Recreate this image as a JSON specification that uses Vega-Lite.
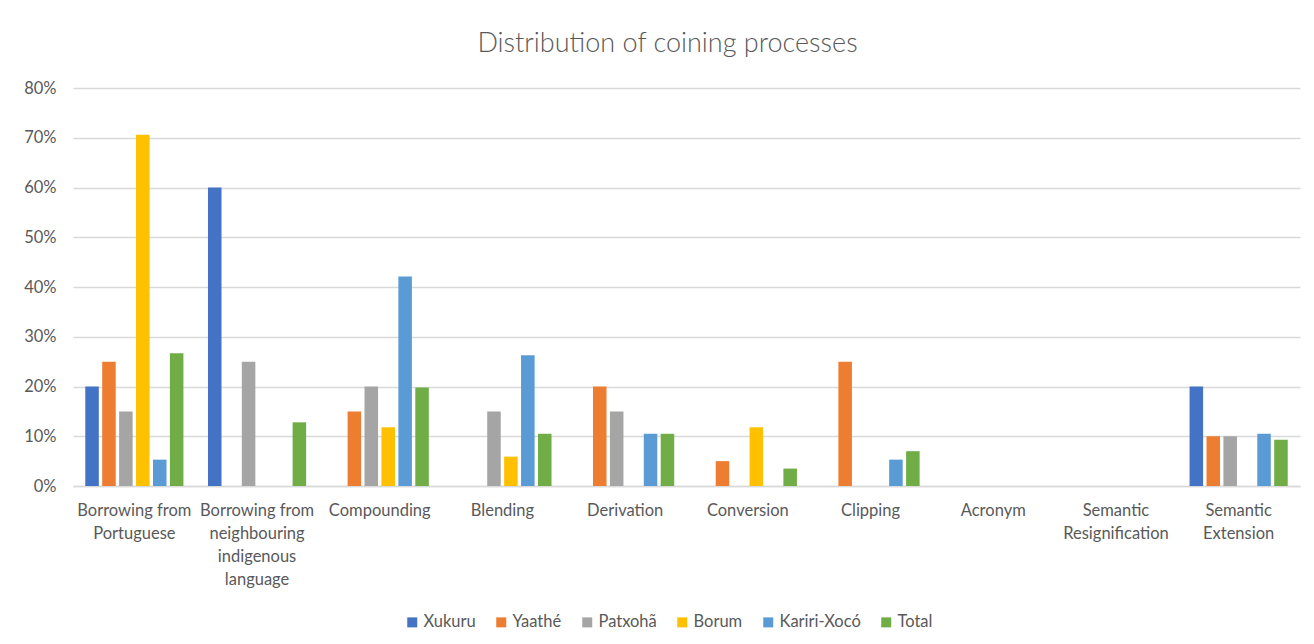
{
  "$schema": "https://vega.github.io/schema/vega-lite/v6.json",
  "autosize": {"type": "none"},
  "width": 1227,
  "height": 398,
  "padding": {"left": 73, "top": 88, "right": 14, "bottom": 158},
  "background": "white",
  "title": {
    "text": "Distribution of coining processes",
    "font": "Lato",
    "fontSize": 27,
    "fontWeight": 300,
    "color": "#595959",
    "anchor": "middle",
    "dx": -19,
    "offset": 22
  },
  "config": {
    "view": {"stroke": null},
    "font": "Lato"
  },
  "data": {
    "values": [
      {"process": "Borrowing from|Portuguese", "group": "Xukuru", "value": 0.20},
      {"process": "Borrowing from|Portuguese", "group": "Yaathé", "value": 0.25},
      {"process": "Borrowing from|Portuguese", "group": "Patxohã", "value": 0.15},
      {"process": "Borrowing from|Portuguese", "group": "Borum", "value": 0.706},
      {"process": "Borrowing from|Portuguese", "group": "Kariri-Xocó", "value": 0.053},
      {"process": "Borrowing from|Portuguese", "group": "Total", "value": 0.267},
      {"process": "Borrowing from|neighbouring|indigenous|language", "group": "Xukuru", "value": 0.60},
      {"process": "Borrowing from|neighbouring|indigenous|language", "group": "Patxohã", "value": 0.25},
      {"process": "Borrowing from|neighbouring|indigenous|language", "group": "Total", "value": 0.128},
      {"process": "Compounding", "group": "Yaathé", "value": 0.15},
      {"process": "Compounding", "group": "Patxohã", "value": 0.20},
      {"process": "Compounding", "group": "Borum", "value": 0.118},
      {"process": "Compounding", "group": "Kariri-Xocó", "value": 0.421},
      {"process": "Compounding", "group": "Total", "value": 0.198},
      {"process": "Blending", "group": "Patxohã", "value": 0.15},
      {"process": "Blending", "group": "Borum", "value": 0.059},
      {"process": "Blending", "group": "Kariri-Xocó", "value": 0.263},
      {"process": "Blending", "group": "Total", "value": 0.105},
      {"process": "Derivation", "group": "Yaathé", "value": 0.20},
      {"process": "Derivation", "group": "Patxohã", "value": 0.15},
      {"process": "Derivation", "group": "Kariri-Xocó", "value": 0.105},
      {"process": "Derivation", "group": "Total", "value": 0.105},
      {"process": "Conversion", "group": "Yaathé", "value": 0.05},
      {"process": "Conversion", "group": "Borum", "value": 0.118},
      {"process": "Conversion", "group": "Total", "value": 0.035},
      {"process": "Clipping", "group": "Yaathé", "value": 0.25},
      {"process": "Clipping", "group": "Kariri-Xocó", "value": 0.053},
      {"process": "Clipping", "group": "Total", "value": 0.070},
      {"process": "Semantic|Extension", "group": "Xukuru", "value": 0.20},
      {"process": "Semantic|Extension", "group": "Yaathé", "value": 0.10},
      {"process": "Semantic|Extension", "group": "Patxohã", "value": 0.10},
      {"process": "Semantic|Extension", "group": "Kariri-Xocó", "value": 0.105},
      {"process": "Semantic|Extension", "group": "Total", "value": 0.093}
    ]
  },
  "mark": {"type": "bar"},
  "encoding": {
    "x": {
      "field": "process",
      "type": "nominal",
      "title": null,
      "scale": {
        "domain": [
          "Borrowing from|Portuguese",
          "Borrowing from|neighbouring|indigenous|language",
          "Compounding",
          "Blending",
          "Derivation",
          "Conversion",
          "Clipping",
          "Acronym",
          "Semantic|Resignification",
          "Semantic|Extension"
        ],
        "paddingInner": 0.2,
        "paddingOuter": 0.1
      },
      "axis": {
        "labelExpr": "split(datum.value, '|')",
        "labelAngle": 0,
        "labelFont": "Lato",
        "labelFontSize": 16.5,
        "labelColor": "#595959",
        "labelLineHeight": 23,
        "labelPadding": 16,
        "labelLimit": 200,
        "ticks": false,
        "domain": true,
        "domainColor": "#D9D9D9",
        "domainWidth": 1.5,
        "grid": false
      }
    },
    "xOffset": {
      "field": "group",
      "type": "nominal",
      "scale": {
        "domain": ["Xukuru", "Yaathé", "Patxohã", "Borum", "Kariri-Xocó", "Total"],
        "paddingInner": 0.2,
        "paddingOuter": 0
      }
    },
    "y": {
      "field": "value",
      "type": "quantitative",
      "title": null,
      "scale": {"domain": [0, 0.8]},
      "axis": {
        "format": ".0%",
        "values": [0, 0.1, 0.2, 0.3, 0.4, 0.5, 0.6, 0.7, 0.8],
        "labelFont": "Lato",
        "labelFontSize": 16.5,
        "labelColor": "#595959",
        "labelPadding": 17,
        "ticks": false,
        "domain": false,
        "grid": true,
        "gridColor": "#D9D9D9",
        "gridWidth": 1.5
      }
    },
    "color": {
      "field": "group",
      "type": "nominal",
      "title": null,
      "scale": {
        "domain": ["Xukuru", "Yaathé", "Patxohã", "Borum", "Kariri-Xocó", "Total"],
        "range": ["#4472C4", "#ED7D31", "#A5A5A5", "#FFC000", "#5B9BD5", "#70AD47"]
      },
      "legend": {
        "orient": "none",
        "direction": "horizontal",
        "legendX": 331,
        "legendY": 526,
        "symbolType": "square",
        "symbolSize": 100,
        "symbolStrokeWidth": 0,
        "labelFont": "Lato",
        "labelFontSize": 16.5,
        "labelColor": "#595959",
        "labelOffset": 3,
        "columnPadding": 17
      }
    }
  }
}
